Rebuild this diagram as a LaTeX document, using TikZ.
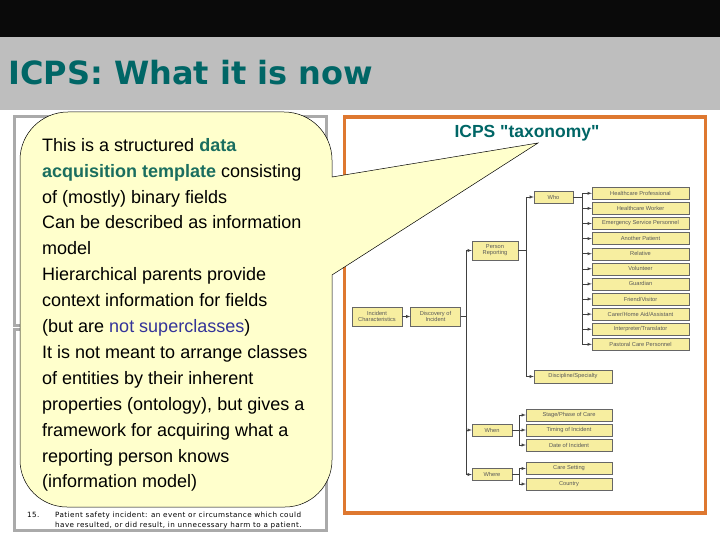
\documentclass[tikz,border=0pt]{standalone}
\usepackage{fontspec}
\setmainfont{Liberation Sans}[Ligatures=TeXOff]
\newfontfamily\vfont{DejaVu Sans}
\newfontfamily\deffont{DejaVu Sans}[LetterSpace=6]
\usepackage{xcolor}
\usepackage{tikz}
\usetikzlibrary{calc, arrows, positioning}
\definecolor{bandblack}{RGB}{10,10,10}
\definecolor{bandgray}{RGB}{190,190,190}
\definecolor{titleteal}{RGB}{0,102,102}
\definecolor{notegreen}{RGB}{26,110,95}
\definecolor{noteblue}{RGB}{51,51,153}
\definecolor{noteyellow}{RGB}{255,255,204}
\definecolor{panelorange}{RGB}{222,120,48}
\definecolor{panelgray}{RGB}{170,170,170}
\definecolor{boxyellow}{RGB}{247,238,160}
\tikzset{
    textnode/.style = {draw=none, fill=none, rectangle, inner sep=0em, node distance=0em},
    catnode/.style = {draw=black!60, fill=boxyellow, rectangle, inner sep=0em, node distance=0em,
      align=center, text=black!65, font=\fontsize{5.7}{6.2}\selectfont, line width=0.4pt},
    leafnode/.style = {catnode, minimum width=97pt, minimum height=12pt},
    whennode/.style = {catnode, minimum width=86pt, minimum height=12pt},
    smallnode/.style = {catnode, minimum width=40pt, minimum height=12pt},
    bignode/.style = {catnode, minimum width=50pt, minimum height=19pt},
    connect/.style = {black!75, line width=0.5pt, ->, >=latex}
}
\newcommand{\hlgreen}[1]{{\color{notegreen}\bfseries #1}}
\newcommand{\hlblue}[1]{{\color{noteblue} #1}}

\begin{document}
\begin{tikzpicture}[x=1pt, y=-1pt]
\useasboundingbox (0,0) rectangle (720,540);
\fill [bandblack] (0,0) rectangle (720,37);
\fill [bandgray] (0,37) rectangle (720,110);
\node [textnode, name=Title, anchor=base west, text=titleteal, font=\vfont\bfseries\fontsize{32}{38}\selectfont]
  at (8,85) {ICPS: What it is now};

\draw [panelgray, line width=2.5pt] (14.5,116.5) rectangle (326.5,325.5);
\draw [panelgray, line width=2.5pt] (14.5,329.5) rectangle (326.5,530.5);
\node [textnode, name=Num, anchor=base west, font=\deffont\fontsize{7.2}{11}\selectfont] at (27,517) {15.};
\node [textnode, name=Def, anchor=base west, font=\deffont\fontsize{7.2}{11}\selectfont] at (55,517)
  {Patient safety incident: an event or circumstance which could};
\node [textnode, name=DefCont, anchor=base west, font=\deffont\fontsize{7.2}{11}\selectfont] at (55,527)
  {have resulted, or did result, in unnecessary harm to a patient.};

\draw [panelorange, line width=3.5pt] (344.5,117) rectangle (705.5,513);
\node [textnode, name=Taxonomy, anchor=base, text=titleteal, font=\bfseries\fontsize{17.5}{20}\selectfont]
  at (527,138) {ICPS "taxonomy"};

\node [bignode, name=Incident] at (377,316.5) {Incident\\Characteristics};
\node [bignode, name=Discovery, right of=Incident, xshift=58.5pt] {Discovery of\\Incident};
\node [bignode, name=PersonRep, minimum width=46pt] at (495,250.5) {Person\\Reporting};
\node [smallnode, name=Who, minimum width=39pt] at (553.5,197) {Who};
\node [catnode, name=Discipline, minimum width=78pt, minimum height=13pt] at (573,376.5) {Discipline/Specialty};
\node [smallnode, name=When] at (492,430) {When};
\node [smallnode, name=Where, below of=When, yshift=-44.5pt] {Where};

\node [leafnode, name=HP] at (640.5,193.3) {Healthcare Professional};
\node [leafnode, name=HW, below of=HP, yshift=-15.1pt] {Healthcare Worker};
\node [leafnode, name=ESP, below of=HW, yshift=-15.1pt] {Emergency Service Personnel};
\node [leafnode, name=AP, below of=ESP, yshift=-15.1pt] {Another Patient};
\node [leafnode, name=Rel, below of=AP, yshift=-15.1pt] {Relative};
\node [leafnode, name=Vol, below of=Rel, yshift=-15.1pt] {Volunteer};
\node [leafnode, name=Guard, below of=Vol, yshift=-15.1pt] {Guardian};
\node [leafnode, name=Friend, below of=Guard, yshift=-15.1pt] {Friend/Visitor};
\node [leafnode, name=Carer, below of=Friend, yshift=-15.1pt] {Carer/Home Aid/Assistant};
\node [leafnode, name=Interp, below of=Carer, yshift=-15.1pt] {Interpreter/Translator};
\node [leafnode, name=Pastoral, below of=Interp, yshift=-15.1pt] {Pastoral Care Personnel};

\node [whennode, name=Stage] at (569,415) {Stage/Phase of Care};
\node [whennode, name=Timing, below of=Stage, yshift=-15pt] {Timing of Incident};
\node [whennode, name=Date, below of=Timing, yshift=-15pt] {Date of Incident};
\node [whennode, name=Setting] at (569,468.5) {Care Setting};
\node [whennode, name=Country, below of=Setting, yshift=-15.5pt] {Country};

\draw (Incident) edge[connect] (Discovery);
\draw [connect] (Discovery.east) -- ++(5.5,0) |- (PersonRep.west);
\draw [connect] (Discovery.east) -- ++(5.5,0) |- (When.west);
\draw [connect] (Discovery.east) -- ++(5.5,0) |- (Where.west);
\draw [connect] (PersonRep.east) -- ++(8,0) |- (Who.west);
\draw [connect] (PersonRep.east) -- ++(8,0) |- (Discipline.west);
\draw [connect] (Who.east) -- ++(9,0) |- (HP.west);
\draw [connect] (Who.east) -- ++(9,0) |- (HW.west);
\draw [connect] (Who.east) -- ++(9,0) |- (ESP.west);
\draw [connect] (Who.east) -- ++(9,0) |- (AP.west);
\draw [connect] (Who.east) -- ++(9,0) |- (Rel.west);
\draw [connect] (Who.east) -- ++(9,0) |- (Vol.west);
\draw [connect] (Who.east) -- ++(9,0) |- (Guard.west);
\draw [connect] (Who.east) -- ++(9,0) |- (Friend.west);
\draw [connect] (Who.east) -- ++(9,0) |- (Carer.west);
\draw [connect] (Who.east) -- ++(9,0) |- (Interp.west);
\draw [connect] (Who.east) -- ++(9,0) |- (Pastoral.west);
\draw [connect] (When.east) -- ++(7,0) |- (Stage.west);
\draw [connect] (When.east) -- ++(7,0) |- (Timing.west);
\draw [connect] (When.east) -- ++(7,0) |- (Date.west);
\draw [connect] (Where.east) -- ++(7,0) |- (Setting.west);
\draw [connect] (Where.east) -- ++(7,0) |- (Country.west);

\filldraw [fill=noteyellow, draw=black, line width=0.5pt] (332,177) -- (332,160)
  arc [start angle=0, end angle=-90, radius=48] -- (68,112)
  arc [start angle=-90, end angle=-180, radius=48] -- (20,460)
  arc [start angle=180, end angle=90, radius=47] -- (285,507)
  arc [start angle=90, end angle=0, radius=47] -- (332,275) -- (538,143) -- cycle;
\node [textnode, name=Note, anchor=north west, align=left, font=\fontsize{18}{25.9}\selectfont] at (42,138)
  {This is a structured \hlgreen{data}\\ \hlgreen{acquisition template} consisting\\ of (mostly) binary fields\\
   Can be described as information\\ model\\ Hierarchical parents provide\\ context information for fields\\
   (but are \hlblue{not superclasses})\\ It is not meant to arrange classes\\ of entities by their inherent\\
   properties (ontology), but gives a\\ framework for acquiring what a\\ reporting person knows\\
   (information model)};
\end{tikzpicture}
\end{document}
